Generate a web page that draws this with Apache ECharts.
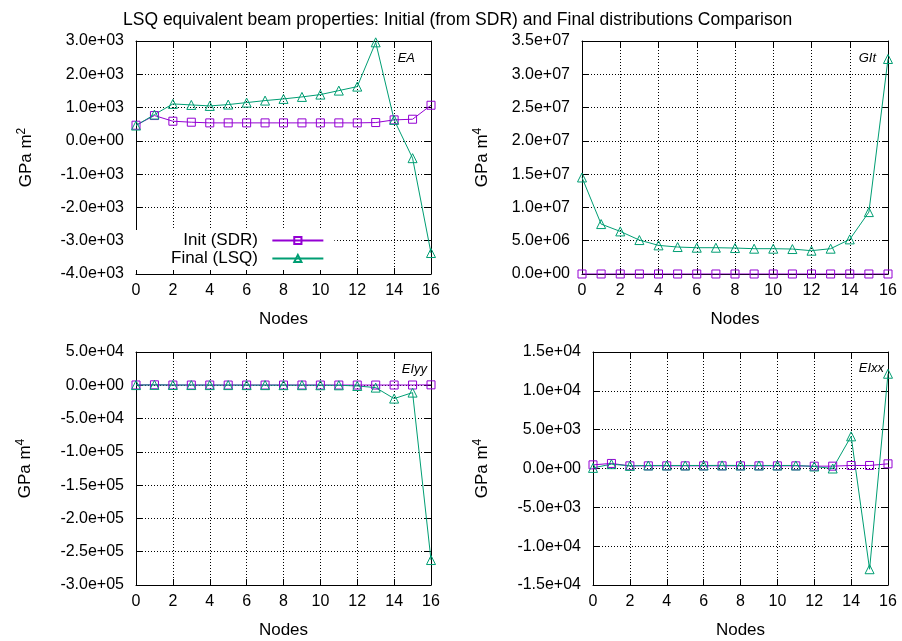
<!DOCTYPE html>
<html>
<head>
<meta charset="utf-8">
<script src="https://cdn.jsdelivr.net/npm/echarts/dist/echarts.min.js"></script>
<style>
  html, body { margin: 0; padding: 0; background: #fff; }
  #chart { width: 902px; height: 641px; }
</style>
</head>
<body>
<div id="chart"></div>
<script>
// Node stations along the beam
const nodes = [0, 1, 2, 3, 4, 5, 6, 7, 8, 9, 10, 11, 12, 13, 14, 15, 16];

// EA  [GPa m^2]
const eaInit  = [470, 760, 590, 560, 540, 540, 540, 540, 540, 540, 540, 540, 540, 550, 630, 650, 1070];
const eaFinal = [460, 790, 1110, 1080, 1050, 1090, 1150, 1210, 1260, 1320, 1390, 1510, 1630, 2960, 630, -520, -3370];

// GIt [GPa m^4]
const gitInit  = [900, 1100, 800, 750, 700, 700, 700, 700, 700, 700, 700, 700, 700, 700, 750, 800, 1200];
const gitFinal = [14.5e6, 7.5e6, 6.4e6, 5.1e6, 4.3e6, 4.05e6, 3.95e6, 3.95e6, 3.9e6, 3.8e6, 3.8e6, 3.75e6, 3.5e6, 3.8e6, 5.2e6, 9.3e6, 32.3e6];

// EIyy [GPa m^4]
const eiyyInit  = [470, 700, 400, 380, 370, 370, 370, 370, 370, 370, 370, 370, 360, 360, 400, 420, 650];
const eiyyFinal = [300, 600, 400, 350, 300, 300, 250, 250, 200, 150, 100, 0, -1000, -3500, -20000, -11000, -262500];

// EIxx [GPa m^4]
const eixxInit  = [470, 650, 340, 340, 340, 340, 340, 340, 340, 340, 340, 340, 300, 300, 390, 390, 600];
const eixxFinal = [80, 560, 340, 390, 390, 390, 390, 400, 390, 390, 390, 390, 260, 0, 4140, -12970, 12200];

// Panel labels and y-axis ranges
const panelTags = ['EA', 'GIt', 'EIyy', 'EIxx'];
const unitPower = ['2', '4', '4', '4'];
const yMin  = [-4000, 0, -300000, -15000];
const yMax  = [3000, 35000000, 50000, 15000];
const yStep = [1000, 5000000, 50000, 5000];
const xMin = 0, xMax = 16, xStep = 2;

const FONT = "'Liberation Sans', Arial, sans-serif";
const PURPLE = '#9400d3';
const GREEN = '#009e73';

// Layout of the four plot boxes
const boxes = [
  { left: 136, top: 41,  width: 295, height: 233, nameGap: 100 },
  { left: 582, top: 41,  width: 306, height: 233, nameGap: 90 },
  { left: 136, top: 352, width: 295, height: 233, nameGap: 101 },
  { left: 593, top: 352, width: 295, height: 233, nameGap: 101 }
];
const tagPos = [[415, 58], [876, 58], [427, 369], [884, 368]];

const seriesData = [
  [eaInit, eaFinal],
  [gitInit, gitFinal],
  [eiyyInit, eiyyFinal],
  [eixxInit, eixxFinal]
];

function sciLabel(v) {
  if (v === 0) return '0.0e+00';
  return v.toExponential(1).replace(/e([+-])(\d)$/, 'e$10$2');
}

const gridLine = { show: true, lineStyle: { color: '#000', width: 1, type: [1, 2] } };
const border = { show: true, onZero: false, lineStyle: { color: '#000', width: 1 } };
const tick = { show: true, inside: true, length: 6, lineStyle: { color: '#000', width: 1 } };

const grids = [], xAxes = [], yAxes = [], series = [], graphics = [];

boxes.forEach((b, i) => {
  grids.push({ left: b.left, top: b.top, width: b.width, height: b.height, containLabel: false, outerBoundsMode: 'none' });

  // bottom + mirrored top x axes
  ['bottom', 'top'].forEach(pos => {
    xAxes.push({
      type: 'value', gridIndex: i, position: pos,
      min: xMin, max: xMax, interval: xStep,
      axisLine: border, axisTick: tick,
      axisLabel: { show: pos === 'bottom', margin: 9, fontSize: 16, fontFamily: FONT, color: '#000' },
      splitLine: pos === 'bottom' ? gridLine : { show: false },
      name: pos === 'bottom' ? 'Nodes' : '',
      nameLocation: 'middle', nameGap: 37,
      nameTextStyle: { fontSize: 17, fontFamily: FONT, color: '#000' }
    });
  });

  // left + mirrored right y axes
  ['left', 'right'].forEach(pos => {
    yAxes.push({
      type: 'value', gridIndex: i, position: pos,
      min: yMin[i], max: yMax[i], interval: yStep[i],
      axisLine: border, axisTick: tick,
      axisLabel: { show: pos === 'left', margin: 12, fontSize: 16, fontFamily: FONT, color: '#000', formatter: sciLabel },
      splitLine: pos === 'left' ? gridLine : { show: false },
      name: pos === 'left' ? '{b|GPa m}{s|' + unitPower[i] + '}' : '',
      nameLocation: 'middle', nameGap: b.nameGap, nameRotate: 90,
      nameTextStyle: {
        rich: {
          b: { fontSize: 17, fontFamily: FONT, color: '#000', lineHeight: 20 },
          s: { fontSize: 12, fontFamily: FONT, color: '#000', lineHeight: 12, verticalAlign: 'top' }
        }
      }
    });
  });

  const [init, fin] = seriesData[i];
  series.push({
    type: 'line', name: 'Init (SDR)',
    xAxisIndex: 2 * i, yAxisIndex: 2 * i,
    data: nodes.map((n, k) => [n, init[k]]),
    symbol: 'rect', symbolSize: 8, showAllSymbol: true,
    lineStyle: { color: PURPLE, width: 1 },
    itemStyle: { color: 'rgba(255,255,255,0)', borderColor: PURPLE, borderWidth: 1 },
    emphasis: { disabled: true }, animation: false
  });
  series.push({
    type: 'line', name: 'Final (LSQ)',
    xAxisIndex: 2 * i, yAxisIndex: 2 * i,
    data: nodes.map((n, k) => [n, fin[k]]),
    symbol: 'triangle', symbolSize: 9, showAllSymbol: true,
    lineStyle: { color: GREEN, width: 1 },
    itemStyle: { color: 'rgba(255,255,255,0)', borderColor: GREEN, borderWidth: 1 },
    emphasis: { disabled: true }, animation: false
  });

  graphics.push({
    type: 'text', x: tagPos[i][0], y: tagPos[i][1], z: 10,
    style: {
      text: panelTags[i], align: 'right', verticalAlign: 'middle',
      fontStyle: 'italic', fontSize: 13, fontFamily: FONT, fill: '#000'
    }
  });
});

const chart = echarts.init(document.getElementById('chart'), null, { renderer: 'canvas' });
chart.setOption({
  backgroundColor: '#fff',
  animation: false,
  title: {
    text: 'LSQ equivalent beam properties: Initial (from SDR) and Final distributions Comparison',
    left: 123, top: 11, padding: 0,
    textStyle: { fontSize: 17.5, fontWeight: 'normal', fontFamily: FONT, color: '#000' }
  },
  legend: {
    data: ['Init (SDR)', 'Final (LSQ)'],
    orient: 'vertical', align: 'right',
    left: 136, top: 230,
    padding: [2, 10, 3, 35],
    itemGap: 1, itemWidth: 51, itemHeight: 9,
    backgroundColor: '#fff',
    selectedMode: false,
    formatter: name => name + '  ',
    textStyle: { fontSize: 17, fontFamily: FONT, color: '#000' }
  },
  grid: grids,
  xAxis: xAxes,
  yAxis: yAxes,
  series: series,
  graphic: graphics
});
</script>
</body>
</html>
